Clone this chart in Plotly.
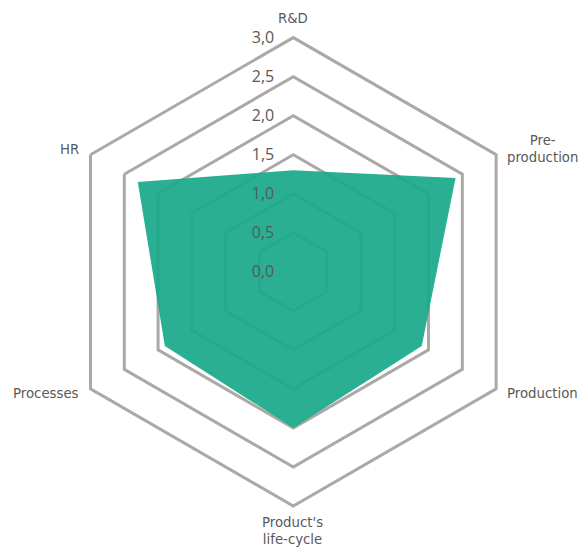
import plotly.graph_objects as go

categories = ["R&D", "Pre-production", "Production", "Product's life-cycle", "Processes", "HR"]
label_text = ["R&D", "Pre-<br>production", "Production", "Product's<br>life-cycle", "Processes", "HR"]
values = [1.3, 2.4, 1.9, 2.0, 1.9, 2.3]
tick_vals = [0, 0.5, 1.0, 1.5, 2.0, 2.5, 3.0]

W, H = 579, 547
cx, cy, R = 293.3, 271.8, 234.2
grid_col = "#aba8a6"
txt_col = "#595959"

# label placement (px from top-left): (x, y, xanchor)
label_pos = [
    (293, 18, "center"),
    (505, 149, "left"),
    (505, 393, "left"),
    (293, 531, "center"),
    (81, 393, "right"),
    (81, 149, "right"),
]

fig = go.Figure()
fig.add_trace(go.Scatterpolar(
    r=values + values[:1],
    theta=categories + categories[:1],
    mode="lines",
    fill="toself",
    fillcolor="rgba(26,169,138,0.93)",
    line=dict(width=0, color="rgba(26,169,138,0.93)"),
    hoverinfo="skip",
))

for txt, (x, y, xa) in zip(label_text, label_pos):
    fig.add_annotation(
        text=txt, xref="paper", yref="paper",
        x=x / W, y=1 - y / H,
        xanchor=xa, yanchor="middle", align="center",
        showarrow=False,
        font=dict(family="DejaVu Sans", size=13.3, color=txt_col),
    )

fig.update_layout(
    width=W, height=H,
    margin=dict(l=0, r=0, t=0, b=0),
    paper_bgcolor="white",
    showlegend=False,
    separators=", ",
    polar=dict(
        domain=dict(x=[(cx - R) / W, (cx + R) / W],
                    y=[(H - cy - R) / H, (H - cy + R) / H]),
        bgcolor="white",
        gridshape="linear",
        radialaxis=dict(
            range=[0, 3],
            tickvals=tick_vals,
            tickformat=".1f",
            angle=90,
            tickangle=90,
            side="counterclockwise",
            showline=False,
            ticks="outside",
            ticklen=13,
            tickcolor="rgba(0,0,0,0)",
            gridcolor=grid_col,
            gridwidth=3,
            tickfont=dict(family="Open Sans", size=16, color=txt_col),
        ),
        angularaxis=dict(
            rotation=90,
            direction="clockwise",
            showline=True,
            linecolor=grid_col,
            linewidth=3,
            showgrid=False,
            ticks="",
            showticklabels=False,
        ),
    ),
)

fig.write_html(
    "out.html",
    config={"displayModeBar": False},
    post_script="document.body.style.margin='0';document.body.style.overflow='hidden';",
)
